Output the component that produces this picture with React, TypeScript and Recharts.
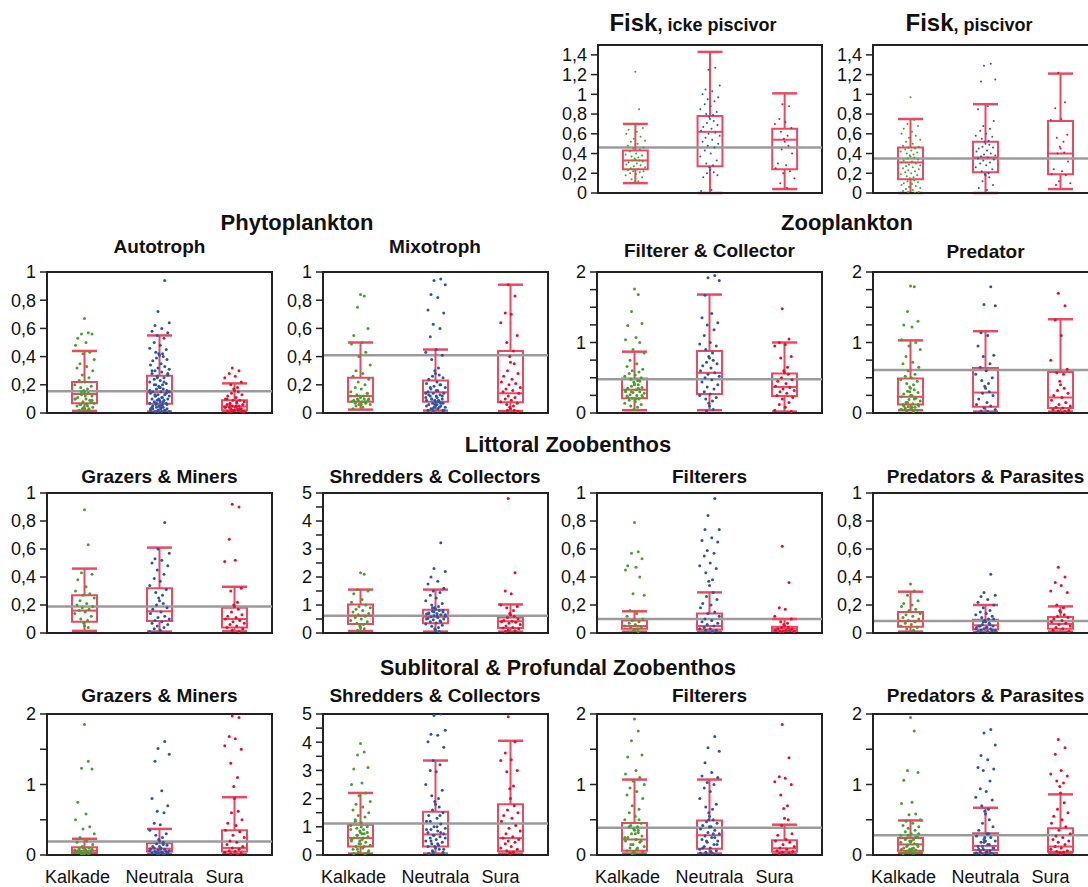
import React from 'react';
import { ScatterChart, Scatter, XAxis, YAxis, ReferenceLine, ReferenceArea } from 'recharts';

// ---------- categories / tick labels ----------
const CATEGORIES = ['Kalkade', 'Neutrala', 'Sura'];
const LABEL_DX = [-7, 0, -10];
const JITTER = [0, 0.05, -0.04, 0.1, -0.09, 0.02, -0.12, 0.07, -0.02, 0.13, -0.06, 0.03, -0.1, 0.11, -0.03, 0.06, -0.07, 0.01, -0.13, 0.09, -0.05, 0.04, -0.01];

const TICKS_15 = [0, 0.2, 0.4, 0.6, 0.8, 1, 1.2, 1.4];
const TICKS_1 = [0, 0.2, 0.4, 0.6, 0.8, 1];
const TICKS_2Q = [0, 0.25, 0.5, 0.75, 1, 1.25, 1.5, 1.75, 2];
const TICKS_2H = [0, 0.5, 1, 1.5, 2];
const TICKS_5 = [0, 0.5, 1, 1.5, 2, 2.5, 3, 3.5, 4, 4.5, 5];
const LAB_2 = [0, 1, 2];
const LAB_5 = [0, 1, 2, 3, 4, 5];

// ---------- data: box stats [low, q1, median, q3, high] per category ----------
const FISK_ICKE_BOX = [[0.1, 0.24, 0.33, 0.43, 0.7], [0.0, 0.27, 0.62, 0.78, 1.43], [0.04, 0.24, 0.54, 0.65, 1.01]];
const FISK_ICKE_REF = 0.46;
const FISK_ICKE_K = [1.23, 0.85, 0.7, 0.66, 0.64, 0.62, 0.6, 0.57, 0.55, 0.53, 0.52, 0.5, 0.48, 0.46, 0.45, 0.44, 0.42, 0.4, 0.39, 0.38, 0.37, 0.36, 0.35, 0.34, 0.33, 0.33, 0.32, 0.31, 0.3, 0.29, 0.28, 0.27, 0.26, 0.25, 0.24, 0.23, 0.22, 0.22, 0.21, 0.2, 0.19, 0.18, 0.16, 0.14, 0.12, 0.11];
const FISK_ICKE_N = [1.27, 1.25, 1.09, 1.05, 1.03, 1.0, 0.97, 0.95, 0.93, 0.9, 0.88, 0.85, 0.82, 0.8, 0.79, 0.77, 0.75, 0.73, 0.71, 0.69, 0.67, 0.65, 0.63, 0.61, 0.6, 0.58, 0.56, 0.54, 0.52, 0.5, 0.48, 0.46, 0.43, 0.4, 0.37, 0.33, 0.3, 0.28, 0.26, 0.23, 0.21, 0.2, 0.18, 0.16, 0.03, 0.02];
const FISK_ICKE_S = [0.9, 0.88, 0.75, 0.72, 0.7, 0.66, 0.62, 0.58, 0.55, 0.52, 0.48, 0.44, 0.4, 0.3, 0.28, 0.25, 0.22, 0.2, 0.15, 0.1, 0.05];

const FISK_PISC_BOX = [[0.0, 0.14, 0.31, 0.46, 0.75], [0.0, 0.21, 0.36, 0.52, 0.9], [0.04, 0.19, 0.4, 0.73, 1.21]];
const FISK_PISC_REF = 0.35;
const FISK_PISC_K = [0.97, 0.74, 0.7, 0.68, 0.65, 0.62, 0.6, 0.58, 0.56, 0.54, 0.52, 0.5, 0.48, 0.47, 0.46, 0.45, 0.44, 0.43, 0.42, 0.41, 0.4, 0.39, 0.38, 0.37, 0.36, 0.35, 0.34, 0.33, 0.32, 0.31, 0.3, 0.29, 0.28, 0.27, 0.26, 0.25, 0.24, 0.23, 0.22, 0.21, 0.2, 0.19, 0.18, 0.17, 0.16, 0.15, 0.14, 0.13, 0.12, 0.11, 0.1, 0.09, 0.08, 0.07, 0.06, 0.05, 0.04, 0.03, 0.02, 0.01, 0.01, 0.0];
const FISK_PISC_N = [1.31, 1.29, 1.15, 1.13, 0.88, 0.85, 0.73, 0.68, 0.65, 0.63, 0.6, 0.58, 0.57, 0.55, 0.53, 0.52, 0.5, 0.49, 0.47, 0.46, 0.45, 0.43, 0.42, 0.4, 0.39, 0.38, 0.37, 0.36, 0.35, 0.34, 0.33, 0.31, 0.3, 0.28, 0.26, 0.24, 0.22, 0.2, 0.19, 0.18, 0.16, 0.12, 0.08, 0.05, 0.03];
const FISK_PISC_S = [1.22, 0.92, 0.86, 0.75, 0.74, 0.59, 0.56, 0.52, 0.47, 0.45, 0.41, 0.4, 0.32, 0.24, 0.22, 0.19, 0.18, 0.12, 0.1, 0.08];

const AUTO_BOX = [[0.015, 0.07, 0.135, 0.22, 0.44], [0.01, 0.066, 0.147, 0.265, 0.55], [0.01, 0.02, 0.047, 0.09, 0.21]];
const AUTO_REF = 0.154;
const AUTO_K = [0.67, 0.57, 0.56, 0.56, 0.53, 0.5, 0.48, 0.43, 0.42, 0.38, 0.35, 0.33, 0.32, 0.3, 0.27, 0.25, 0.23, 0.22, 0.2, 0.19, 0.18, 0.17, 0.16, 0.15, 0.14, 0.13, 0.12, 0.11, 0.1, 0.1, 0.09, 0.08, 0.07, 0.06, 0.06, 0.05, 0.04, 0.03, 0.03, 0.02, 0.12, 0.1, 0.08, 0.06, 0.05, 0.04, 0.03, 0.02, 0.15, 0.09];
const AUTO_N = [0.94, 0.72, 0.64, 0.62, 0.6, 0.58, 0.57, 0.55, 0.53, 0.5, 0.48, 0.46, 0.45, 0.43, 0.42, 0.42, 0.41, 0.4, 0.39, 0.38, 0.37, 0.35, 0.34, 0.33, 0.32, 0.31, 0.3, 0.29, 0.28, 0.27, 0.26, 0.25, 0.24, 0.23, 0.22, 0.21, 0.2, 0.2, 0.19, 0.18, 0.17, 0.17, 0.16, 0.15, 0.15, 0.14, 0.13, 0.13, 0.12, 0.12, 0.11, 0.1, 0.1, 0.09, 0.09, 0.08, 0.08, 0.07, 0.07, 0.06, 0.06, 0.05, 0.05, 0.04, 0.04, 0.03, 0.03, 0.03, 0.02, 0.02, 0.02, 0.01, 0.01, 0.01, 0.3, 0.28, 0.25, 0.22, 0.2, 0.18, 0.16, 0.14, 0.12, 0.11, 0.1, 0.09, 0.08, 0.07, 0.06, 0.05, 0.04, 0.03, 0.02, 0.01, 0.15, 0.13, 0.06, 0.04];
const AUTO_S = [0.32, 0.3, 0.28, 0.26, 0.25, 0.22, 0.2, 0.18, 0.17, 0.16, 0.15, 0.14, 0.13, 0.12, 0.11, 0.1, 0.09, 0.09, 0.08, 0.07, 0.07, 0.06, 0.06, 0.05, 0.05, 0.04, 0.04, 0.04, 0.03, 0.03, 0.03, 0.02, 0.02, 0.02, 0.01, 0.01, 0.01, 0.05, 0.04, 0.03, 0.02, 0.01, 0.06, 0.08, 0.1];

const MIXO_BOX = [[0.024, 0.08, 0.12, 0.25, 0.5], [0.017, 0.08, 0.147, 0.23, 0.45], [0.014, 0.076, 0.14, 0.44, 0.91]];
const MIXO_REF = 0.41;
const MIXO_K = [0.84, 0.83, 0.75, 0.6, 0.55, 0.5, 0.49, 0.43, 0.4, 0.34, 0.3, 0.28, 0.26, 0.24, 0.22, 0.2, 0.18, 0.17, 0.15, 0.14, 0.13, 0.12, 0.12, 0.11, 0.1, 0.1, 0.09, 0.09, 0.08, 0.08, 0.07, 0.06, 0.06, 0.05, 0.04, 0.03, 0.1, 0.09, 0.08, 0.07, 0.06, 0.12, 0.14];
const MIXO_N = [0.95, 0.94, 0.91, 0.84, 0.82, 0.73, 0.71, 0.63, 0.6, 0.54, 0.45, 0.43, 0.41, 0.38, 0.32, 0.3, 0.28, 0.27, 0.26, 0.25, 0.24, 0.22, 0.21, 0.2, 0.19, 0.18, 0.17, 0.16, 0.15, 0.14, 0.14, 0.13, 0.12, 0.12, 0.11, 0.1, 0.1, 0.09, 0.09, 0.08, 0.08, 0.07, 0.07, 0.06, 0.06, 0.05, 0.05, 0.04, 0.04, 0.03, 0.03, 0.02, 0.02, 0.01, 0.2, 0.18, 0.16, 0.14, 0.12, 0.1, 0.08, 0.06, 0.05, 0.04, 0.03, 0.02, 0.13, 0.11, 0.09, 0.07];
const MIXO_S = [0.91, 0.83, 0.71, 0.7, 0.64, 0.55, 0.5, 0.44, 0.4, 0.36, 0.35, 0.3, 0.28, 0.26, 0.24, 0.22, 0.21, 0.2, 0.18, 0.17, 0.16, 0.15, 0.14, 0.12, 0.11, 0.1, 0.09, 0.08, 0.07, 0.06, 0.05, 0.04, 0.03, 0.02, 0.02, 0.01];

const ZFC_BOX = [[0.04, 0.21, 0.33, 0.49, 0.87], [0.04, 0.27, 0.57, 0.88, 1.68], [0.02, 0.24, 0.37, 0.56, 1.0]];
const ZFC_REF = 0.48;
const ZFC_K = [1.76, 1.68, 1.44, 1.27, 1.24, 1.07, 1.04, 1.0, 0.9, 0.85, 0.75, 0.7, 0.66, 0.62, 0.6, 0.58, 0.56, 0.54, 0.52, 0.5, 0.48, 0.46, 0.44, 0.42, 0.4, 0.38, 0.36, 0.35, 0.33, 0.32, 0.3, 0.29, 0.28, 0.26, 0.25, 0.24, 0.22, 0.21, 0.2, 0.18, 0.16, 0.14, 0.12, 0.1, 0.08, 0.05, 0.4, 0.35, 0.3, 0.25, 0.22, 0.2, 0.3, 0.45];
const ZFC_N = [1.95, 1.92, 1.88, 1.67, 1.41, 1.35, 1.28, 1.25, 1.18, 1.1, 1.0, 0.98, 0.95, 0.9, 0.85, 0.8, 0.78, 0.75, 0.72, 0.7, 0.67, 0.64, 0.6, 0.57, 0.55, 0.52, 0.5, 0.47, 0.44, 0.4, 0.37, 0.34, 0.3, 0.27, 0.25, 0.22, 0.2, 0.17, 0.14, 0.1, 0.05, 0.03];
const ZFC_S = [1.48, 1.05, 1.0, 0.97, 0.95, 0.8, 0.78, 0.65, 0.6, 0.57, 0.55, 0.5, 0.47, 0.45, 0.42, 0.38, 0.36, 0.34, 0.32, 0.3, 0.28, 0.25, 0.22, 0.2, 0.15, 0.12, 0.08, 0.04, 0.02];

const ZPR_BOX = [[0.04, 0.12, 0.23, 0.49, 1.03], [0.02, 0.09, 0.29, 0.64, 1.16], [0.02, 0.07, 0.22, 0.58, 1.33]];
const ZPR_REF = 0.61;
const ZPR_K = [1.8, 1.79, 1.44, 1.3, 1.25, 1.22, 1.04, 1.0, 0.95, 0.9, 0.8, 0.72, 0.7, 0.65, 0.6, 0.55, 0.52, 0.5, 0.47, 0.45, 0.42, 0.4, 0.37, 0.35, 0.33, 0.31, 0.29, 0.27, 0.25, 0.23, 0.21, 0.19, 0.17, 0.15, 0.13, 0.12, 0.1, 0.09, 0.08, 0.07, 0.06, 0.05, 0.04, 0.03, 0.02, 0.3, 0.25, 0.2, 0.15, 0.12, 0.1, 0.08, 0.05];
const ZPR_N = [1.79, 1.54, 1.52, 1.14, 1.1, 0.95, 0.82, 0.8, 0.7, 0.65, 0.6, 0.55, 0.5, 0.46, 0.42, 0.38, 0.35, 0.3, 0.28, 0.25, 0.2, 0.15, 0.12, 0.1, 0.07, 0.05, 0.03, 0.02];
const ZPR_S = [1.7, 1.52, 1.32, 1.1, 0.75, 0.62, 0.57, 0.55, 0.45, 0.4, 0.35, 0.32, 0.28, 0.25, 0.22, 0.18, 0.15, 0.12, 0.1, 0.08, 0.07, 0.05, 0.04, 0.03, 0.02];

const LGM_BOX = [[0.015, 0.08, 0.16, 0.27, 0.46], [0.01, 0.085, 0.155, 0.32, 0.61], [0.012, 0.04, 0.1, 0.18, 0.33]];
const LGM_REF = 0.19;
const LGM_K = [0.88, 0.63, 0.43, 0.42, 0.38, 0.33, 0.3, 0.28, 0.27, 0.25, 0.23, 0.21, 0.2, 0.19, 0.18, 0.17, 0.16, 0.15, 0.14, 0.12, 0.1, 0.09, 0.07, 0.05, 0.04];
const LGM_N = [0.79, 0.6, 0.57, 0.53, 0.52, 0.5, 0.48, 0.45, 0.42, 0.39, 0.37, 0.34, 0.31, 0.29, 0.27, 0.25, 0.23, 0.21, 0.2, 0.18, 0.17, 0.15, 0.14, 0.12, 0.11, 0.1, 0.09, 0.08, 0.07, 0.06, 0.05, 0.04, 0.03, 0.02, 0.01];
const LGM_S = [0.92, 0.9, 0.67, 0.52, 0.51, 0.32, 0.3, 0.22, 0.2, 0.19, 0.17, 0.15, 0.13, 0.12, 0.11, 0.1, 0.09, 0.08, 0.07, 0.06, 0.05, 0.04, 0.03, 0.02, 0.01];

const LSC_BOX = [[0.07, 0.32, 0.62, 1.02, 1.55], [0.05, 0.35, 0.58, 0.83, 1.55], [0.05, 0.18, 0.42, 0.55, 1.02]];
const LSC_REF = 0.62;
const LSC_K = [2.15, 2.1, 1.55, 1.5, 1.4, 1.2, 1.1, 1.0, 0.95, 0.9, 0.85, 0.8, 0.75, 0.7, 0.65, 0.6, 0.55, 0.5, 0.45, 0.4, 0.35, 0.3, 0.25, 0.2, 0.15, 0.1];
const LSC_N = [3.22, 2.3, 2.2, 2.0, 1.85, 1.75, 1.6, 1.5, 1.45, 1.35, 1.25, 1.15, 1.05, 1.0, 0.95, 0.9, 0.85, 0.8, 0.78, 0.75, 0.72, 0.7, 0.68, 0.65, 0.62, 0.6, 0.58, 0.55, 0.52, 0.5, 0.47, 0.44, 0.4, 0.36, 0.32, 0.28, 0.24, 0.2, 0.15, 0.1, 0.05, 0.9, 0.8, 0.7, 0.6, 0.5, 0.4, 0.75, 0.65];
const LSC_S = [4.8, 2.15, 1.5, 1.4, 1.0, 0.95, 0.9, 0.8, 0.7, 0.65, 0.6, 0.55, 0.5, 0.45, 0.42, 0.4, 0.38, 0.35, 0.3, 0.25, 0.2, 0.18, 0.15, 0.1, 0.08, 0.05];

const LFI_BOX = [[0.01, 0.03, 0.05, 0.09, 0.155], [0.01, 0.025, 0.05, 0.14, 0.29], [0.005, 0.015, 0.03, 0.045, 0.1]];
const LFI_REF = 0.1;
const LFI_K = [0.79, 0.58, 0.57, 0.53, 0.48, 0.47, 0.45, 0.4, 0.28, 0.27, 0.16, 0.14, 0.12, 0.1, 0.09, 0.08, 0.07, 0.06, 0.05, 0.04, 0.04, 0.03, 0.02, 0.02, 0.01];
const LFI_N = [0.96, 0.84, 0.74, 0.74, 0.68, 0.66, 0.65, 0.59, 0.57, 0.55, 0.5, 0.48, 0.46, 0.43, 0.38, 0.37, 0.34, 0.29, 0.26, 0.24, 0.21, 0.2, 0.18, 0.15, 0.14, 0.12, 0.1, 0.09, 0.08, 0.07, 0.06, 0.05, 0.04, 0.03, 0.03, 0.02, 0.02, 0.01];
const LFI_S = [0.62, 0.36, 0.18, 0.17, 0.12, 0.1, 0.08, 0.07, 0.06, 0.05, 0.04, 0.04, 0.03, 0.03, 0.02, 0.02, 0.02, 0.01, 0.01, 0.01];

const LPP_BOX = [[0.01, 0.045, 0.085, 0.15, 0.295], [0.005, 0.025, 0.055, 0.095, 0.2], [0.01, 0.03, 0.065, 0.115, 0.19]];
const LPP_REF = 0.085;
const LPP_K = [0.35, 0.3, 0.27, 0.23, 0.21, 0.2, 0.19, 0.17, 0.16, 0.14, 0.13, 0.12, 0.11, 0.1, 0.09, 0.08, 0.07, 0.06, 0.05, 0.04, 0.03, 0.02];
const LPP_N = [0.42, 0.29, 0.27, 0.26, 0.24, 0.22, 0.2, 0.18, 0.16, 0.15, 0.14, 0.13, 0.12, 0.11, 0.1, 0.09, 0.08, 0.07, 0.06, 0.05, 0.05, 0.04, 0.04, 0.03, 0.03, 0.02, 0.02, 0.01, 0.01, 0.1, 0.08, 0.06, 0.05, 0.04, 0.03, 0.02];
const LPP_S = [0.47, 0.4, 0.36, 0.34, 0.3, 0.29, 0.2, 0.18, 0.16, 0.15, 0.13, 0.12, 0.11, 0.1, 0.09, 0.08, 0.07, 0.06, 0.05, 0.04, 0.03, 0.02, 0.01];

const SGM_BOX = [[0.015, 0.03, 0.06, 0.11, 0.23], [0.015, 0.05, 0.09, 0.165, 0.37], [0.015, 0.05, 0.1, 0.35, 0.82]];
const SGM_REF = 0.19;
const SGM_K = [1.85, 1.33, 1.23, 1.22, 0.75, 0.58, 0.5, 0.4, 0.37, 0.3, 0.25, 0.2, 0.18, 0.15, 0.12, 0.1, 0.09, 0.08, 0.07, 0.06, 0.05, 0.04, 0.03, 0.02, 0.02, 0.01, 0.08, 0.06, 0.05, 0.04, 0.03, 0.1];
const SGM_N = [1.61, 1.51, 1.43, 1.33, 0.91, 0.8, 0.7, 0.62, 0.6, 0.45, 0.43, 0.35, 0.3, 0.28, 0.25, 0.22, 0.2, 0.18, 0.16, 0.14, 0.12, 0.1, 0.09, 0.08, 0.07, 0.06, 0.05, 0.04, 0.03, 0.03, 0.02, 0.01, 0.1, 0.08, 0.06, 0.05, 0.04, 0.03, 0.02, 0.12, 0.15];
const SGM_S = [1.97, 1.95, 1.68, 1.65, 1.55, 1.5, 1.3, 1.1, 0.97, 0.8, 0.62, 0.6, 0.5, 0.45, 0.42, 0.35, 0.33, 0.28, 0.25, 0.2, 0.18, 0.15, 0.12, 0.1, 0.08, 0.06, 0.05, 0.04, 0.03, 0.02, 0.01];

const SSC_BOX = [[0.05, 0.3, 0.6, 1.07, 2.2], [0.05, 0.3, 0.73, 1.53, 3.35], [0.05, 0.13, 0.6, 1.8, 4.05]];
const SSC_REF = 1.12;
const SSC_K = [3.95, 3.65, 3.55, 3.1, 3.05, 2.55, 2.5, 2.2, 2.1, 1.9, 1.8, 1.7, 1.6, 1.5, 1.4, 1.35, 1.25, 1.15, 1.05, 1.0, 0.95, 0.9, 0.85, 0.8, 0.75, 0.7, 0.65, 0.6, 0.55, 0.5, 0.45, 0.4, 0.35, 0.3, 0.25, 0.2, 0.15, 0.1, 0.05, 1.2, 1.0, 0.9, 0.8, 0.7, 0.6, 0.5, 0.4, 0.3, 0.2, 0.1, 0.05, 0.75, 0.55];
const SSC_N = [5.0, 4.95, 4.42, 4.28, 4.25, 4.02, 3.82, 3.35, 3.2, 3.0, 2.95, 2.5, 2.3, 2.1, 2.0, 1.9, 1.8, 1.7, 1.6, 1.5, 1.4, 1.3, 1.2, 1.1, 1.0, 0.95, 0.9, 0.85, 0.8, 0.75, 0.7, 0.65, 0.6, 0.55, 0.5, 0.45, 0.4, 0.35, 0.3, 0.25, 0.2, 0.15, 0.1, 0.05, 1.0, 0.9, 0.8, 0.7, 0.6, 0.5, 0.4, 0.3, 0.2, 0.1, 1.4, 1.2];
const SSC_S = [4.9, 4.02, 3.62, 3.38, 3.35, 3.0, 2.95, 2.45, 2.35, 2.0, 1.75, 1.6, 1.5, 1.4, 1.3, 1.2, 1.05, 0.95, 0.85, 0.75, 0.65, 0.6, 0.55, 0.5, 0.45, 0.4, 0.3, 0.25, 0.2, 0.15, 0.1, 0.08, 0.05];

const SFI_BOX = [[0.02, 0.06, 0.22, 0.455, 1.07], [0.02, 0.09, 0.28, 0.49, 1.07], [0.02, 0.05, 0.095, 0.21, 0.43]];
const SFI_REF = 0.385;
const SFI_K = [1.93, 1.76, 1.62, 1.42, 1.39, 1.2, 1.15, 1.1, 1.05, 1.0, 0.95, 0.9, 0.85, 0.8, 0.7, 0.65, 0.6, 0.55, 0.5, 0.45, 0.42, 0.4, 0.37, 0.35, 0.32, 0.3, 0.27, 0.25, 0.22, 0.2, 0.18, 0.15, 0.12, 0.1, 0.08, 0.06, 0.04, 0.02, 0.5, 0.4, 0.3, 0.25, 0.2, 0.15, 0.1, 0.05, 0.03, 0.35];
const SFI_N = [1.68, 1.52, 1.47, 1.31, 1.17, 1.12, 1.1, 1.03, 1.0, 0.95, 0.9, 0.8, 0.72, 0.68, 0.65, 0.6, 0.55, 0.5, 0.47, 0.45, 0.42, 0.4, 0.37, 0.35, 0.32, 0.3, 0.27, 0.25, 0.22, 0.2, 0.18, 0.15, 0.12, 0.1, 0.08, 0.06, 0.04, 0.02, 0.5, 0.4, 0.3, 0.2, 0.15, 0.1, 0.05, 0.03, 0.25];
const SFI_S = [1.85, 1.38, 1.11, 1.09, 1.04, 1.0, 0.85, 0.7, 0.66, 0.52, 0.5, 0.42, 0.3, 0.28, 0.22, 0.2, 0.18, 0.15, 0.12, 0.1, 0.08, 0.06, 0.05, 0.04, 0.03, 0.02];

const SPP_BOX = [[0.025, 0.06, 0.15, 0.24, 0.49], [0.025, 0.07, 0.13, 0.31, 0.67], [0.025, 0.045, 0.12, 0.38, 0.86]];
const SPP_REF = 0.28;
const SPP_K = [1.95, 1.76, 1.2, 1.17, 1.06, 0.75, 0.73, 0.58, 0.57, 0.5, 0.48, 0.45, 0.42, 0.4, 0.38, 0.35, 0.33, 0.3, 0.28, 0.26, 0.24, 0.22, 0.2, 0.18, 0.16, 0.14, 0.12, 0.1, 0.09, 0.08, 0.07, 0.06, 0.05, 0.04, 0.03, 0.02, 0.3, 0.28, 0.25, 0.22, 0.2, 0.18, 0.15, 0.12, 0.1, 0.08, 0.05, 0.03];
const SPP_N = [1.78, 1.73, 1.56, 1.41, 1.35, 1.24, 1.22, 1.2, 1.05, 0.94, 0.9, 0.82, 0.78, 0.7, 0.65, 0.62, 0.58, 0.5, 0.45, 0.4, 0.35, 0.3, 0.27, 0.25, 0.22, 0.2, 0.18, 0.15, 0.12, 0.1, 0.08, 0.06, 0.05, 0.04, 0.03, 0.02, 0.01, 0.3, 0.25, 0.2, 0.15, 0.12, 0.1, 0.08, 0.05, 0.03, 0.02, 0.18];
const SPP_S = [1.64, 1.52, 1.43, 1.2, 1.15, 1.12, 1.05, 1.02, 0.97, 0.88, 0.74, 0.65, 0.6, 0.55, 0.5, 0.45, 0.4, 0.35, 0.3, 0.27, 0.25, 0.22, 0.2, 0.18, 0.15, 0.12, 0.1, 0.08, 0.06, 0.05, 0.04, 0.03, 0.02];

// ---------- styling ----------
const FONT = '"Liberation Sans", Arial, Helvetica, sans-serif';
const POINT_COLORS = ['#46a02e', '#2b55a6', '#e2102e'];
const BOX_COLOR = '#e94a60';
const REF_COLOR = '#9b9b9b';
const AXIS_COLOR = '#222';
const BW = 1 / 6;

const COLS = [47, 323, 597, 873];
const PLOT_W = 225;
const Y_AXIS_W = 47;
const TOP_PAD = 10;

type PanelCfg = {
  key: string;
  axisX: number;
  plotTop: number;
  plotH: number;
  max: number;
  ticks: number[];
  labeled: number[];
  boxes: number[][];
  refY: number;
  groups: number[][];
  r: number;
  showX: boolean;
  w?: number;
};

const PANELS: PanelCfg[] = [
  { key: 'fi', axisX: 598, plotTop: 45, plotH: 148, max: 1.5, ticks: TICKS_15, labeled: TICKS_15, boxes: FISK_ICKE_BOX, refY: FISK_ICKE_REF, groups: [FISK_ICKE_K, FISK_ICKE_N, FISK_ICKE_S], r: 1, showX: false, w: 224 },
  { key: 'fp', axisX: 873, plotTop: 45, plotH: 148, max: 1.5, ticks: TICKS_15, labeled: TICKS_15, boxes: FISK_PISC_BOX, refY: FISK_PISC_REF, groups: [FISK_PISC_K, FISK_PISC_N, FISK_PISC_S], r: 1, showX: false },
  { key: 'au', axisX: COLS[0], plotTop: 272, plotH: 141, max: 1, ticks: TICKS_1, labeled: TICKS_1, boxes: AUTO_BOX, refY: AUTO_REF, groups: [AUTO_K, AUTO_N, AUTO_S], r: 1.5, showX: false },
  { key: 'mx', axisX: COLS[1], plotTop: 272, plotH: 141, max: 1, ticks: TICKS_1, labeled: TICKS_1, boxes: MIXO_BOX, refY: MIXO_REF, groups: [MIXO_K, MIXO_N, MIXO_S], r: 1.5, showX: false },
  { key: 'zf', axisX: COLS[2], plotTop: 272, plotH: 141, max: 2, ticks: TICKS_2Q, labeled: LAB_2, boxes: ZFC_BOX, refY: ZFC_REF, groups: [ZFC_K, ZFC_N, ZFC_S], r: 1.5, showX: false },
  { key: 'zp', axisX: COLS[3], plotTop: 272, plotH: 141, max: 2, ticks: TICKS_2Q, labeled: LAB_2, boxes: ZPR_BOX, refY: ZPR_REF, groups: [ZPR_K, ZPR_N, ZPR_S], r: 1.5, showX: false },
  { key: 'lg', axisX: COLS[0], plotTop: 493, plotH: 140, max: 1, ticks: TICKS_1, labeled: TICKS_1, boxes: LGM_BOX, refY: LGM_REF, groups: [LGM_K, LGM_N, LGM_S], r: 1.5, showX: false },
  { key: 'ls', axisX: COLS[1], plotTop: 493, plotH: 140, max: 5, ticks: TICKS_5, labeled: LAB_5, boxes: LSC_BOX, refY: LSC_REF, groups: [LSC_K, LSC_N, LSC_S], r: 1.5, showX: false },
  { key: 'lf', axisX: COLS[2], plotTop: 493, plotH: 140, max: 1, ticks: TICKS_1, labeled: TICKS_1, boxes: LFI_BOX, refY: LFI_REF, groups: [LFI_K, LFI_N, LFI_S], r: 1.5, showX: false },
  { key: 'lp', axisX: COLS[3], plotTop: 493, plotH: 140, max: 1, ticks: TICKS_1, labeled: TICKS_1, boxes: LPP_BOX, refY: LPP_REF, groups: [LPP_K, LPP_N, LPP_S], r: 1.5, showX: false },
  { key: 'sg', axisX: COLS[0], plotTop: 714, plotH: 141, max: 2, ticks: TICKS_2H, labeled: LAB_2, boxes: SGM_BOX, refY: SGM_REF, groups: [SGM_K, SGM_N, SGM_S], r: 1.5, showX: true },
  { key: 'ss', axisX: COLS[1], plotTop: 714, plotH: 141, max: 5, ticks: TICKS_5, labeled: LAB_5, boxes: SSC_BOX, refY: SSC_REF, groups: [SSC_K, SSC_N, SSC_S], r: 1.5, showX: true },
  { key: 'sf', axisX: COLS[2], plotTop: 714, plotH: 141, max: 2, ticks: TICKS_2H, labeled: LAB_2, boxes: SFI_BOX, refY: SFI_REF, groups: [SFI_K, SFI_N, SFI_S], r: 1.5, showX: true },
  { key: 'sp', axisX: COLS[3], plotTop: 714, plotH: 141, max: 2, ticks: TICKS_2H, labeled: LAB_2, boxes: SPP_BOX, refY: SPP_REF, groups: [SPP_K, SPP_N, SPP_S], r: 1.5, showX: true },
];

const fmtTick = (labeled: number[]) => (v: number) =>
  labeled.includes(v) ? String(v).replace('.', ',') : '';

const XTick = (props: any) => {
  const { x, y, payload } = props;
  const i = Math.floor(payload.value);
  return (
    <text x={x + LABEL_DX[i]} y={y} dy="0.71em" textAnchor="middle" fontSize={18} fontFamily={FONT} fill="#111">
      {CATEGORIES[i]}
    </text>
  );
};

const dot = (r: number, color: string) => (props: any) =>
  <circle cx={props.cx} cy={props.cy} r={r} fill={color} />;

function Panel({ cfg }: { cfg: PanelCfg }) {
  const plotW = cfg.w ?? PLOT_W;
  const xAxisH = cfg.showX ? 32 : 14;
  const width = Y_AXIS_W + plotW + 5;
  const height = TOP_PAD + cfg.plotH + xAxisH;
  const series = cfg.groups.map((vals, gi) =>
    vals.map((y, j) => ({ x: gi + 0.5 + JITTER[(j + gi * 7) % JITTER.length], y }))
  );
  return (
    <div style={{ position: 'absolute', left: cfg.axisX - Y_AXIS_W, top: cfg.plotTop - TOP_PAD }}>
      <ScatterChart width={width} height={height} margin={{ top: TOP_PAD, right: 5, bottom: 0, left: 0 }}>
        <XAxis
          type="number"
          dataKey="x"
          domain={[0, 3]}
          ticks={[0.5, 1.5, 2.5]}
          allowDataOverflow
          height={xAxisH}
          axisLine={{ stroke: AXIS_COLOR, strokeWidth: 2 }}
          tickLine={false}
          tickSize={0}
          tickMargin={15}
          tick={cfg.showX ? <XTick /> : false}
        />
        <YAxis
          type="number"
          dataKey="y"
          domain={[0, cfg.max]}
          ticks={cfg.ticks}
          interval={0}
          allowDataOverflow
          width={Y_AXIS_W}
          axisLine={{ stroke: AXIS_COLOR, strokeWidth: 2 }}
          tickLine={{ stroke: AXIS_COLOR, strokeWidth: 1.5 }}
          tickSize={7}
          tickMargin={4}
          tick={{ fontSize: 18, fontFamily: FONT, fill: '#111' }}
          tickFormatter={fmtTick(cfg.labeled)}
        />
        <ReferenceLine y={cfg.refY} stroke={REF_COLOR} strokeWidth={2.5} />
        {cfg.boxes.map((b, i) => {
          const c = i + 0.5;
          const [lo, q1, med, q3, hi] = b;
          return (
            <React.Fragment key={'b' + i}>
              <ReferenceLine segment={[{ x: c, y: q3 }, { x: c, y: hi }]} stroke={BOX_COLOR} strokeWidth={2} ifOverflow="visible" />
              <ReferenceLine segment={[{ x: c, y: lo }, { x: c, y: q1 }]} stroke={BOX_COLOR} strokeWidth={2} ifOverflow="visible" />
              <ReferenceLine segment={[{ x: c - BW, y: hi }, { x: c + BW, y: hi }]} stroke={BOX_COLOR} strokeWidth={2.5} ifOverflow="visible" />
              <ReferenceLine segment={[{ x: c - BW, y: lo }, { x: c + BW, y: lo }]} stroke={BOX_COLOR} strokeWidth={2.5} ifOverflow="visible" />
              <ReferenceArea x1={c - BW} x2={c + BW} y1={q1} y2={q3} fill="none" fillOpacity={0} stroke={BOX_COLOR} strokeWidth={2} ifOverflow="visible" />
              <ReferenceLine segment={[{ x: c - BW, y: med }, { x: c + BW, y: med }]} stroke={BOX_COLOR} strokeWidth={2} ifOverflow="visible" />
            </React.Fragment>
          );
        })}
        {series.map((d, gi) => (
          <Scatter key={'s' + gi} data={d} isAnimationActive={false} shape={dot(cfg.r, POINT_COLORS[gi])} />
        ))}
        <ReferenceArea x1={0} x2={3} y1={0} y2={cfg.max} fill="none" fillOpacity={0} stroke={AXIS_COLOR} strokeWidth={2} ifOverflow="visible" />
      </ScatterChart>
    </div>
  );
}

const T = (props: { x: number; y: number; size: number; children: React.ReactNode }) => (
  <text x={props.x} y={props.y} textAnchor="middle" fontSize={props.size} fontWeight="bold" fontFamily={FONT} fill="#111">
    {props.children}
  </text>
);

export default function App() {
  const sub = 19;
  const grp = 22;
  return (
    <div style={{ position: 'absolute', left: 0, top: 0, width: 1088, height: 887, overflow: 'hidden', background: '#fff' }}>
      {PANELS.map((p) => (
        <Panel key={p.key} cfg={p} />
      ))}
      <svg width={1088} height={887} style={{ position: 'absolute', left: 0, top: 0, pointerEvents: 'none' }}>
        <text x={693} y={31} textAnchor="middle" fontFamily={FONT} fontWeight="bold" fill="#111">
          <tspan fontSize={24}>Fisk</tspan>
          <tspan fontSize={18}>, icke piscivor</tspan>
        </text>
        <text x={969} y={31} textAnchor="middle" fontFamily={FONT} fontWeight="bold" fill="#111">
          <tspan fontSize={24}>Fisk</tspan>
          <tspan fontSize={18}>, piscivor</tspan>
        </text>
        <T x={297} y={230} size={grp}>Phytoplankton</T>
        <T x={847} y={230} size={grp}>Zooplankton</T>
        <T x={159.5} y={253} size={sub}>Autotroph</T>
        <T x={435} y={253} size={sub}>Mixotroph</T>
        <T x={709.5} y={257} size={sub}>Filterer &amp; Collector</T>
        <T x={985.5} y={258} size={sub}>Predator</T>
        <T x={568} y={452} size={grp}>Littoral Zoobenthos</T>
        <T x={159.5} y={483} size={sub}>Grazers &amp; Miners</T>
        <T x={435} y={483} size={sub}>Shredders &amp; Collectors</T>
        <T x={709.5} y={483} size={sub}>Filterers</T>
        <T x={985.5} y={483} size={sub}>Predators &amp; Parasites</T>
        <T x={558} y={675} size={21.5}>Sublitoral &amp; Profundal Zoobenthos</T>
        <T x={159.5} y={702} size={sub}>Grazers &amp; Miners</T>
        <T x={435} y={702} size={sub}>Shredders &amp; Collectors</T>
        <T x={709.5} y={702} size={sub}>Filterers</T>
        <T x={985.5} y={702} size={sub}>Predators &amp; Parasites</T>
      </svg>
    </div>
  );
}
